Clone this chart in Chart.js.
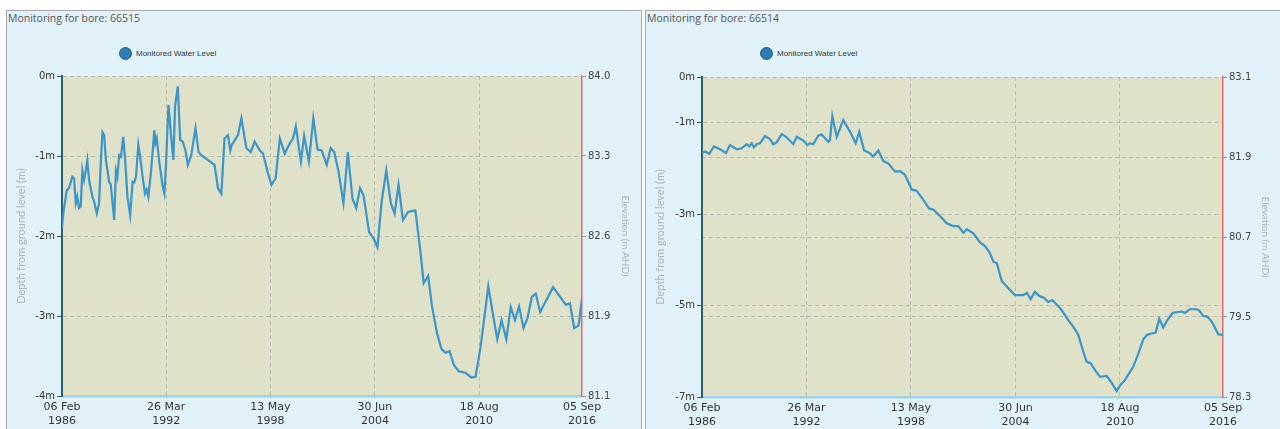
<!DOCTYPE html>
<html>
<head>
<meta charset="utf-8">
<script src="https://cdn.jsdelivr.net/npm/chart.js@4.4.0/dist/chart.umd.min.js"></script>
<style>
  body { margin: 0; background: #fff; width: 1280px; height: 429px; overflow: hidden; position: relative; font-family: Lato, sans-serif; }
  .panel { position: absolute; top: 10px; height: 430px; background: #e2f2fa; border: 1px solid #a9a9a9; box-sizing: border-box; }
  .panel-title { position: absolute; left: 1px; top: 0px; font: 10.5px "Open Sans", sans-serif; color: #555; }
  .legend { position: absolute; top: 36px; font: 8px "Liberation Sans", Arial, sans-serif; color: #333; display: flex; align-items: center; }
  .legend .dot { width: 11px; height: 11px; border-radius: 50%; background: #2b7db3; border: 1px solid #1d5d88; margin-right: 4px; }
  .wrap { position: absolute; top: 0; left: 0; width: 633px; height: 418px; }
</style>
</head>
<body>

<div class="panel" id="p1" style="left:6px; width:636px;">
  <div class="panel-title">Monitoring for bore: 66515</div>
  <div class="legend" style="left:112px;"><span class="dot"></span>Monitored Water Level</div>
  <div class="wrap"><canvas id="chart66515"></canvas></div>
</div>

<div class="panel" id="p2" style="left:645px; width:640px;">
  <div class="panel-title">Monitoring for bore: 66514</div>
  <div class="legend" style="left:114px;"><span class="dot"></span>Monitored Water Level</div>
  <div class="wrap" style="width:634px;"><canvas id="chart66514"></canvas></div>
</div>

<script>
// shared date axis (decimal years)
const dateTickValues = [1986.10, 1992.23, 1998.36, 2004.50, 2010.63, 2016.68];
const dateTickLabels = [['06 Feb', '1986'], ['26 Mar', '1992'], ['13 May', '1998'], ['30 Jun', '2004'], ['18 Aug', '2010'], ['05 Sep', '2016']];

// bore 66515
const years66515 = [
  1986.10, 1986.18, 1986.38, 1986.51, 1986.71, 1986.81, 1986.91, 1987.00, 1987.10, 1987.20,
  1987.30, 1987.40, 1987.50, 1987.59, 1987.69, 1987.89, 1987.99, 1988.15, 1988.28, 1988.38,
  1988.48, 1988.58, 1988.68, 1988.87, 1988.97, 1989.17, 1989.27, 1989.36, 1989.46, 1989.57,
  1989.70, 1989.80, 1989.95, 1990.11, 1990.25, 1990.35, 1990.45, 1990.59, 1990.70, 1990.84,
  1990.98, 1991.08, 1991.18, 1991.34, 1991.53, 1991.59, 1991.67, 1991.83, 1992.02, 1992.12,
  1992.22, 1992.36, 1992.52, 1992.65, 1992.75, 1992.91, 1993.05, 1993.20, 1993.36, 1993.50,
  1993.70, 1993.95, 1994.13, 1994.29, 1995.07, 1995.27, 1995.47, 1995.66, 1995.86, 1996.00,
  1996.09, 1996.45, 1996.65, 1996.94, 1997.20, 1997.43, 1997.73, 1997.92, 1998.22, 1998.42,
  1998.66, 1998.91, 1999.20, 1999.50, 1999.69, 1999.85, 2000.15, 2000.34, 2000.62, 2000.88,
  2001.13, 2001.37, 2001.67, 2001.90, 2002.11, 2002.35, 2002.65, 2002.91, 2003.18, 2003.40,
  2003.63, 2003.83, 2004.16, 2004.42, 2004.65, 2004.91, 2005.17, 2005.44, 2005.66, 2005.89,
  2006.15, 2006.45, 2006.88, 2007.17, 2007.37, 2007.63, 2007.86, 2008.16, 2008.41, 2008.65,
  2008.89, 2009.14, 2009.43, 2009.83, 2010.18, 2010.42, 2010.72, 2011.17, 2011.50, 2011.70,
  2011.95, 2012.23, 2012.49, 2012.74, 2012.98, 2013.24, 2013.47, 2013.73, 2013.96, 2014.22,
  2014.98, 2015.73, 2015.97, 2016.22, 2016.48, 2016.68
];
const depth66515 = [
  -1.90, -1.71, -1.43, -1.40, -1.26, -1.28, -1.59, -1.51, -1.65, -1.63,
  -1.18, -1.30, -1.18, -1.05, -1.30, -1.51, -1.57, -1.72, -1.59, -1.09,
  -0.70, -0.74, -1.05, -1.32, -1.36, -1.80, -1.18, -1.26, -0.99, -1.01,
  -0.76, -1.01, -1.51, -1.74, -1.32, -1.33, -1.26, -0.86, -1.01, -1.26,
  -1.47, -1.42, -1.51, -1.18, -0.68, -0.84, -0.78, -1.09, -1.38, -1.47,
  -1.09, -0.36, -0.76, -1.05, -0.38, -0.13, -0.80, -0.82, -0.93, -1.11,
  -0.99, -0.65, -0.95, -0.99, -1.11, -1.40, -1.47, -0.78, -0.74, -0.93,
  -0.86, -0.74, -0.53, -0.90, -0.95, -0.82, -0.93, -0.97, -1.22, -1.36,
  -1.28, -0.78, -0.97, -0.84, -0.78, -0.63, -1.07, -0.75, -1.07, -0.53,
  -0.92, -0.93, -1.11, -0.90, -0.95, -1.18, -1.59, -0.95, -1.53, -1.65,
  -1.40, -1.49, -1.95, -2.03, -2.14, -1.55, -1.18, -1.59, -1.72, -1.36,
  -1.80, -1.70, -1.68, -2.18, -2.59, -2.50, -2.88, -3.22, -3.41, -3.46,
  -3.44, -3.61, -3.69, -3.71, -3.77, -3.76, -3.38, -2.63, -3.05, -3.29,
  -3.05, -3.29, -2.89, -3.05, -2.88, -3.15, -3.03, -2.76, -2.72, -2.95,
  -2.64, -2.86, -2.84, -3.15, -3.12, -2.78
];
const depthTicks66515 = [0, -1, -2, -3, -4];
const elevLabels66515 = ['84.0', '83.3', '82.6', '81.9', '81.1'];

// bore 66514
const years66514 = [
  1986.10, 1986.28, 1986.53, 1986.80, 1987.16, 1987.51, 1987.74, 1988.14, 1988.43, 1988.72,
  1988.88, 1989.02, 1989.15, 1989.31, 1989.50, 1989.80, 1990.09, 1990.28, 1990.48, 1990.78,
  1991.07, 1991.46, 1991.66, 1992.05, 1992.28, 1992.44, 1992.63, 1992.93, 1993.13, 1993.51,
  1993.61, 1993.75, 1994.01, 1994.39, 1994.79, 1995.12, 1995.33, 1995.61, 1995.96, 1996.15,
  1996.45, 1996.74, 1997.03, 1997.43, 1997.72, 1998.01, 1998.41, 1998.70, 1999.09, 1999.44,
  1999.67, 2000.07, 2000.46, 2000.85, 2001.14, 2001.44, 2001.64, 2002.02, 2002.42, 2002.71,
  2003.00, 2003.20, 2003.40, 2003.69, 2004.08, 2004.47, 2004.96, 2005.16, 2005.39, 2005.64,
  2005.90, 2006.17, 2006.42, 2006.66, 2007.01, 2007.21, 2007.60, 2007.89, 2008.19, 2008.48,
  2008.68, 2008.91, 2009.17, 2009.46, 2009.85, 2010.15, 2010.44, 2010.69, 2010.93, 2011.18,
  2011.41, 2011.71, 2012.00, 2012.23, 2012.49, 2012.73, 2012.94, 2013.17, 2013.41, 2013.73,
  2014.05, 2014.25, 2014.45, 2014.74, 2015.14, 2015.29, 2015.52, 2015.76, 2016.02, 2016.41,
  2016.68
];
const depth66514 = [
  -1.66, -1.63, -1.68, -1.52, -1.58, -1.66, -1.49, -1.58, -1.56, -1.47,
  -1.52, -1.45, -1.54, -1.47, -1.45, -1.29, -1.36, -1.47, -1.43, -1.25,
  -1.32, -1.47, -1.31, -1.39, -1.49, -1.45, -1.47, -1.28, -1.26, -1.42,
  -1.38, -0.85, -1.31, -0.94, -1.20, -1.45, -1.20, -1.60, -1.67, -1.74,
  -1.61, -1.84, -1.89, -2.07, -2.06, -2.14, -2.46, -2.49, -2.69, -2.88,
  -2.90, -3.04, -3.20, -3.26, -3.26, -3.41, -3.33, -3.42, -3.62, -3.70,
  -3.85, -4.04, -4.07, -4.46, -4.62, -4.77, -4.77, -4.72, -4.86, -4.70,
  -4.79, -4.83, -4.92, -4.88, -5.01, -5.10, -5.32, -5.46, -5.64, -6.01,
  -6.23, -6.26, -6.41, -6.56, -6.54, -6.69, -6.87, -6.72, -6.63, -6.47,
  -6.34, -6.05, -5.74, -5.64, -5.61, -5.59, -5.29, -5.48, -5.32, -5.16,
  -5.14, -5.13, -5.16, -5.08, -5.08, -5.11, -5.23, -5.24, -5.35, -5.63,
  -5.64
];
const depthTicks66514 = [0, -1, -3, -5, -7];
const elevLabels66514 = ['83.1', '81.9', '80.7', '79.5', '78.3'];

// 绘图区背景
const plotBg = {
  id: 'plotBg',
  beforeDraw(chart) {
    const { ctx, chartArea: a } = chart;
    ctx.save();
    ctx.fillStyle = '#dfe2c8';
    ctx.fillRect(a.left, a.top, a.right - a.left, a.bottom - a.top);
    ctx.restore();
  }
};

const tickFont = { family: 'DejaVu Sans', size: 10 };
const gridDash = 'rgba(125,150,150,0.42)';

function makeChart(id, years, depths, depthTicks, depthMin, elevMin, elevMax, elevLabels, opt) {
  const points = years.map((x, i) => ({ x, y: depths[i] }));
  const elevStep = (elevMax - elevMin) / (elevLabels.length - 1);
  return new Chart(document.getElementById(id), {
    type: 'line',
    data: {
      datasets: [{
        label: 'Monitored Water Level',
        data: points,
        borderColor: '#3b95c8',
        borderWidth: 2.2,
        pointRadius: 0,
        tension: 0,
        yAxisID: 'y'
      }]
    },
    plugins: [plotBg],
    options: {
      responsive: true,
      maintainAspectRatio: false,
      animation: false,
      layout: { padding: { top: opt.top, left: 0, right: 0, bottom: 0 } },
      plugins: { legend: { display: false }, tooltip: { enabled: false } },
      scales: {
        x: {
          type: 'linear',
          min: dateTickValues[0],
          max: dateTickValues[dateTickValues.length - 1],
          afterBuildTicks: s => { s.ticks = dateTickValues.map(v => ({ value: v })); },
          afterFit: s => { s.height = opt.xh; },
          grid: {
            drawTicks: false,
            color: c => (c.index === 0 || c.index === dateTickValues.length - 1) ? 'transparent' : gridDash
          },
          border: { color: '#9fd0e4', width: 2.5, dash: [4, 3] },
          ticks: {
            autoSkip: false, maxRotation: 0, padding: 5,
            color: '#333', font: { family: 'DejaVu Sans', size: 11 },
            callback: (v, i) => dateTickLabels[i]
          }
        },
        y: {
          position: 'left',
          min: depthMin,
          max: 0,
          afterBuildTicks: s => { s.ticks = depthTicks.map(v => ({ value: v })); },
          afterFit: s => { s.width = opt.yw; },
          grid: {
            tickLength: 5,
            tickColor: '#2e5f6e',
            color: c => c.tick && c.tick.value === depthMin ? 'transparent' : gridDash
          },
          border: { color: '#2e5f6e', width: 2, dash: [4, 3] },
          ticks: { padding: 2, color: '#333', font: tickFont, callback: v => v + 'm' },
          title: {
            display: true, text: 'Depth from ground level (m)',
            color: '#a9b6bc', font: { family: 'Lato', size: 11 },
            padding: { top: 8, bottom: 0 }
          }
        },
        y2: {
          position: 'right',
          min: elevMin,
          max: elevMax,
          afterBuildTicks: s => { s.ticks = elevLabels.map((l, i) => ({ value: elevMax - i * elevStep })); },
          afterFit: s => { s.width = opt.rw; },
          grid: {
            drawOnChartArea: opt.rightGrid,
            tickLength: 4,
            tickColor: '#999',
            color: c => c.tick && (c.tick.value === elevMin || c.index === 0) ? 'transparent' : gridDash
          },
          border: { color: '#e26a6a', width: 1.5, dash: [4, 3] },
          ticks: { padding: 2, color: '#444', font: tickFont, callback: (v, i) => elevLabels[i] },
          title: {
            display: true, text: 'Elevation (m AHD)',
            color: '#a9b6bc', font: { family: 'Lato', size: 10 },
            padding: { top: 9, bottom: 0 }
          }
        }
      }
    }
  });
}

makeChart('chart66515', years66515, depth66515, depthTicks66515, -4, 81.1, 84.0, elevLabels66515,
  { top: 65, xh: 33, yw: 55, rw: 58, rightGrid: false });
makeChart('chart66514', years66514, depth66514, depthTicks66514, -7, 78.3, 83.1, elevLabels66514,
  { top: 66, xh: 32, yw: 56, rw: 57, rightGrid: true });
</script>
</body>
</html>
